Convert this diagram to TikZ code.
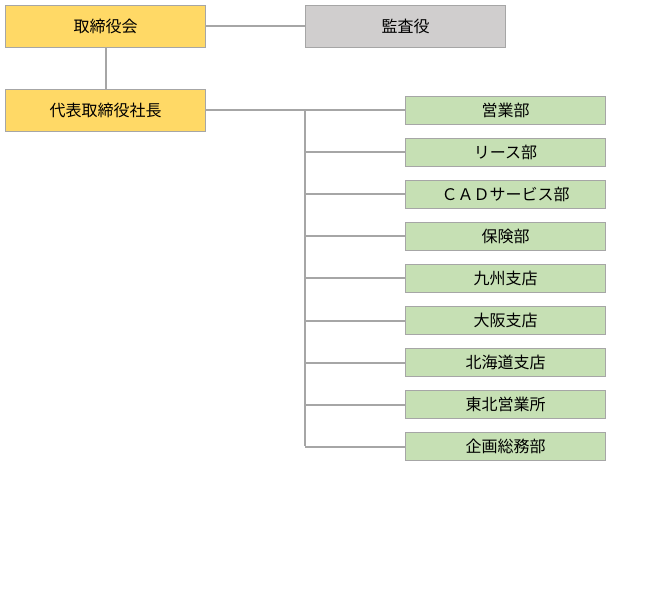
\documentclass[tikz,border=0pt]{standalone}
\usepackage{fontspec}
\setmainfont{Noto Sans CJK JP}
\definecolor{yel}{HTML}{FFD966}
\definecolor{gry}{HTML}{D0CECE}
\definecolor{grn}{HTML}{C6E0B4}
\definecolor{lin}{HTML}{A6A6A6}
\begin{document}
\begin{tikzpicture}[x=1pt,y=-1pt,
  box/.style={draw=lin,line width=1pt,minimum width=200pt,inner sep=0pt,font=\fontsize{16}{16}\selectfont,anchor=north west},
  topbox/.style={box,minimum height=42pt},
  subbox/.style={box,fill=grn,minimum height=28pt},
  conn/.style={draw=lin,line width=2pt}]
\useasboundingbox (0,0) rectangle (663,601);
\node[topbox,fill=yel] (bod) at (5,5) {取締役会};
\node[topbox,fill=gry] (aud) at (305,5) {監査役};
\node[topbox,fill=yel] (ceo) at (5,89) {代表取締役社長};
\foreach \t [count=\i] in {営業部,リース部,ＣＡＤサービス部,保険部,九州支店,大阪支店,北海道支店,東北営業所,企画総務部}{
  \node[subbox] (d\i) at (405,{96+42*(\i-1)}) {\t};
}
\coordinate (bus) at (305,110);
\coordinate (busend) at (305,446);
\draw[conn] (bod.east) -- (aud.west);
\draw[conn] (bod.south) -- (ceo.north);
\draw[conn] (ceo.east) -- (d1.west);
\draw[conn] (bus) -- (busend);
\foreach \i in {2,...,9}{
  \draw[conn] (d\i.west) -- (d\i.west -| bus);
}
\end{tikzpicture}
\end{document}
